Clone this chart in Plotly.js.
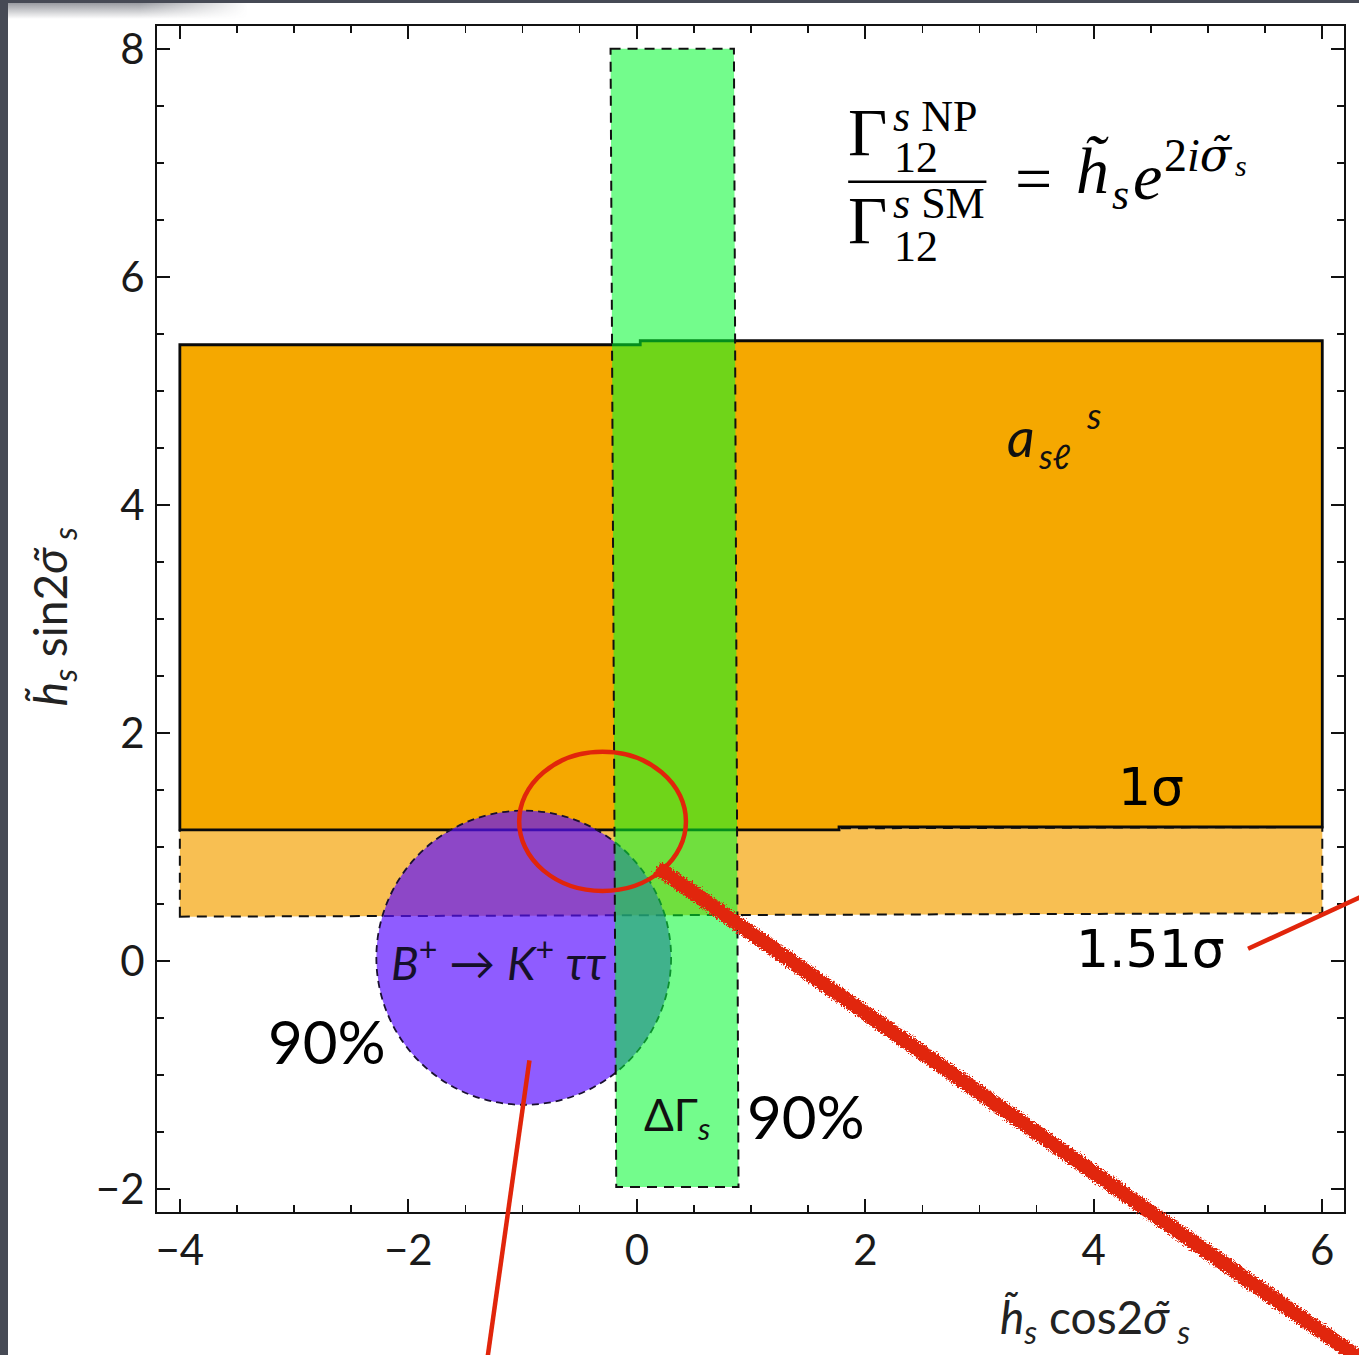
<!DOCTYPE html>
<html>
<head>
<meta charset="utf-8">
<script src="https://cdn.plot.ly/plotly-3.0.1.min.js"></script>
<style>
  html, body { margin: 0; padding: 0; width: 1359px; height: 1355px; overflow: hidden; background: #464a55; }
  #chart { position: absolute; left: 8px; top: 3px; width: 1351px; height: 1352px; background: #fff; }
  #shade { position: absolute; left: 8px; top: 3px; width: 240px; height: 16px; pointer-events: none; z-index: 5;
           background: linear-gradient(to bottom, rgba(70,74,85,0.55), rgba(70,74,85,0));
           -webkit-mask-image: linear-gradient(to right, #000 55%, transparent);
           mask-image: linear-gradient(to right, #000 55%, transparent); }
</style>
</head>
<body>
<div id="chart"></div>
<div id="shade"></div>
<script>
// Axis ranges and ticks
const xRange = [-4.2, 6.19];
const yRange = [-2.2, 8.2];
const xTickVals = [-4, -2, 0, 2, 4, 6];
const yTickVals = [-2, 0, 2, 4, 6, 8];

// a_sl^s constraint: 1 sigma region (outline vertices)
const asl1SigmaX = [-4, 1.77, 1.77, 6, 6, 0.03, 0.03, -4];
const asl1SigmaY = [1.15, 1.15, 1.176, 1.176, 5.44, 5.44, 5.405, 5.405];
// a_sl^s constraint: 1.51 sigma band below it
const asl151SigmaX = [-4, 6, 6, -4];
const asl151SigmaY = [0.39, 0.42, 1.176, 1.15];

// Delta Gamma_s 90% band
const dGammaX = [-0.23, 0.85, 0.89, -0.18];
const dGammaY = [8.0, 8.0, -1.98, -1.98];

// B+ -> K+ tau tau 90% disc: centre and radius
const bkttCenter = [-0.99, 0.03];
const bkttRadius = 1.29;

// Highlight ring around the overlap region: centre and radii
const ringCenter = [-0.30, 1.225];
const ringRadii = [0.73, 0.61];

// Pointer strokes, endpoints in data units (they run past the frame)
const strokeMainX = [0.18, 6.38];
const strokeMainY = [0.82, -3.52];
const strokeSigmaX = [5.35, 6.36];
const strokeSigmaY = [0.108, 0.573];
const strokeDiscX = [-0.94, -1.31];
const strokeDiscY = [-0.87, -3.50];

// Fraction bar of the ratio formula
const fracBarX = [1.85, 3.06];
const fracBarY = 6.835;

function polyPath(xs, ys) {
  return 'M' + xs.map((x, i) => x + ',' + ys[i]).join('L') + 'Z';
}
function toPaperX(x) { return (x - xRange[0]) / (xRange[1] - xRange[0]); }
function toPaperY(y) { return (y - yRange[0]) / (yRange[1] - yRange[0]); }

const dash = '10px,7px';
const ink = '#111';
const red = '#e1250b';

const shapes = [
  { type: 'path', xref: 'x', yref: 'y', path: polyPath(asl151SigmaX, asl151SigmaY),
    fillcolor: '#f8bf52', line: { color: ink, width: 2, dash: dash } },
  { type: 'path', xref: 'x', yref: 'y', path: polyPath(asl1SigmaX, asl1SigmaY),
    fillcolor: '#f5a800', line: { color: '#0a0a0a', width: 2.8 } },
  { type: 'circle', xref: 'x', yref: 'y',
    x0: bkttCenter[0] - bkttRadius, x1: bkttCenter[0] + bkttRadius,
    y0: bkttCenter[1] - bkttRadius, y1: bkttCenter[1] + bkttRadius,
    fillcolor: 'rgba(90,15,255,0.68)', line: { color: '#1a1030', width: 1.8, dash: '7px,5px' } },
  { type: 'path', xref: 'x', yref: 'y', path: polyPath(dGammaX, dGammaY),
    fillcolor: 'rgba(0,250,45,0.55)', line: { color: ink, width: 2, dash: dash } },
  { type: 'circle', xref: 'x', yref: 'y',
    x0: ringCenter[0] - ringRadii[0], x1: ringCenter[0] + ringRadii[0],
    y0: ringCenter[1] - ringRadii[1], y1: ringCenter[1] + ringRadii[1],
    fillcolor: 'rgba(0,0,0,0)', line: { color: red, width: 4.5 } },
  { type: 'line', xref: 'paper', yref: 'paper',
    x0: toPaperX(strokeMainX[0]), x1: toPaperX(strokeMainX[1]),
    y0: toPaperY(strokeMainY[0]), y1: toPaperY(strokeMainY[1]),
    line: { color: red, width: 15 } },
  { type: 'line', xref: 'paper', yref: 'paper',
    x0: toPaperX(strokeSigmaX[0]), x1: toPaperX(strokeSigmaX[1]),
    y0: toPaperY(strokeSigmaY[0]), y1: toPaperY(strokeSigmaY[1]),
    line: { color: red, width: 4.5 } },
  { type: 'line', xref: 'paper', yref: 'paper',
    x0: toPaperX(strokeDiscX[0]), x1: toPaperX(strokeDiscX[1]),
    y0: toPaperY(strokeDiscY[0]), y1: toPaperY(strokeDiscY[1]),
    line: { color: red, width: 4.5 } },
  { type: 'line', xref: 'x', yref: 'y',
    x0: fracBarX[0], x1: fracBarX[1], y0: fracBarY, y1: fracBarY,
    line: { color: '#000', width: 2.5 } }
];
const roughStrokeIndex = 5;

const serif = 'Liberation Serif, DejaVu Serif, serif';
const sans = 'Lato, Open Sans, sans-serif';
const djv = 'DejaVu Sans, sans-serif';

function note(text, x, y, font, extra) {
  return Object.assign({ text: text, x: x, y: y, xref: 'x', yref: 'y', showarrow: false,
    xanchor: 'center', yanchor: 'middle', font: font }, extra || {});
}
const L = { xanchor: 'left' };
const R = { xanchor: 'right' };

const annotations = [
  // ratio Gamma12 NP / Gamma12 SM
  note('Γ', 2.205, 7.27, { family: serif, size: 68, color: '#000' }, R),
  note('<i>s</i> NP', 2.222, 7.41, { family: serif, size: 44, color: '#000' }, L),
  note('12', 2.232, 7.05, { family: serif, size: 44, color: '#000' }, L),
  note('Γ', 2.205, 6.50, { family: serif, size: 68, color: '#000' }, R),
  note('<i>s</i> SM', 2.222, 6.64, { family: serif, size: 44, color: '#000' }, L),
  note('12', 2.232, 6.27, { family: serif, size: 44, color: '#000' }, L),
  note('=', 3.47, 6.86, { family: serif, size: 66, color: '#000' }),
  note('<i>h\u0303</i>', 3.99, 6.93, { family: serif, size: 66, color: '#000' }),
  note('<i>s</i>', 4.23, 6.72, { family: serif, size: 44, color: '#000' }),
  note('<i>e</i>', 4.47, 6.88, { family: serif, size: 66, color: '#000' }),
  note('2<i>i</i><span style="font-family:DejaVu Serif"><i>σ\u0303</i></span>', 4.60, 7.07, { family: serif, size: 46, color: '#000' }, L),
  note('<i>s</i>', 5.29, 6.98, { family: serif, size: 30, color: '#000' }),

  // region labels
  note('<i>a</i>', 3.36, 4.60, { family: sans, size: 54, color: '#111' }),
  note('<i>s\u2113</i>', 3.66, 4.43, { family: sans, size: 34, color: '#111' }),
  note('<i>s</i>', 4.00, 4.79, { family: sans, size: 36, color: '#111' }),
  note('1σ', 4.50, 1.53, { family: djv, size: 52, color: '#000' }),
  note('1.51σ', 4.50, 0.11, { family: djv, size: 52, color: '#000' }),
  note('<i>B</i><sup>+</sup> → <i>K</i><sup>+</sup> <i>ττ</i>', -1.21, 0.01, { family: sans, size: 46, color: '#15102a' }),
  note('90%', -2.71, -0.70, { family: sans, size: 60, color: '#000' }),
  note('ΔΓ<sub><i>s</i></sub>', 0.35, -1.37, { family: sans, size: 44, color: '#111' }),
  note('90%', 1.48, -1.36, { family: sans, size: 60, color: '#000' }),

  // axis titles
  { text: '<i>h\u0303</i><sub><i>s</i></sub> cos2<i>σ\u0303</i><sub> <i>s</i></sub>', xref: 'paper', yref: 'paper',
    x: 0.79, y: -0.091, xanchor: 'center', yanchor: 'middle', showarrow: false,
    font: { family: sans, size: 46, color: '#222' } },
  { text: '<i>h\u0303</i><sub><i>s</i></sub> sin2<i>σ\u0303</i><sub> <i>s</i></sub>', xref: 'paper', yref: 'paper',
    x: -0.088, y: 0.502, xanchor: 'center', yanchor: 'middle', showarrow: false, textangle: -90,
    font: { family: sans, size: 46, color: '#222' } }
];

const axisBase = {
  showline: true, linecolor: '#111', linewidth: 2, mirror: 'ticks',
  ticks: 'inside', ticklen: 13, tickwidth: 2, tickcolor: '#111',
  showgrid: false, zeroline: false, fixedrange: true,
  tickfont: { family: sans, size: 42, color: '#1a1a1a' },
  minor: { tickmode: 'linear', tick0: 0, dtick: 0.5, ticks: 'inside', ticklen: 7, tickwidth: 1.5, tickcolor: '#111', showgrid: false }
};

const layout = {
  width: 1351, height: 1352,
  margin: { l: 149, r: 15, t: 23, b: 143 },
  paper_bgcolor: '#ffffff', plot_bgcolor: '#ffffff',
  showlegend: false,
  xaxis: Object.assign({}, axisBase, { range: xRange, tickmode: 'array', tickvals: xTickVals, ticklabelstandoff: 1 }),
  yaxis: Object.assign({}, axisBase, { range: yRange, tickmode: 'array', tickvals: yTickVals, ticklabelstandoff: 2 }),
  shapes: shapes,
  annotations: annotations
};

Plotly.newPlot('chart', [], layout, { staticPlot: true, displayModeBar: false }).then(function (gd) {
  // chalky texture for the broad pointer stroke
  const ns = 'http://www.w3.org/2000/svg';
  const svg = gd.querySelector('.main-svg');
  let defs = svg.querySelector('defs');
  if (!defs) { defs = document.createElementNS(ns, 'defs'); svg.insertBefore(defs, svg.firstChild); }
  const filter = document.createElementNS(ns, 'filter');
  filter.setAttribute('id', 'chalk');
  filter.setAttribute('filterUnits', 'userSpaceOnUse');
  filter.setAttribute('x', '0'); filter.setAttribute('y', '0');
  filter.setAttribute('width', '1400'); filter.setAttribute('height', '1400');
  const turb = document.createElementNS(ns, 'feTurbulence');
  turb.setAttribute('type', 'fractalNoise');
  turb.setAttribute('baseFrequency', '0.7');
  turb.setAttribute('numOctaves', '2');
  turb.setAttribute('seed', '3');
  turb.setAttribute('result', 'noise');
  const disp = document.createElementNS(ns, 'feDisplacementMap');
  disp.setAttribute('in', 'SourceGraphic');
  disp.setAttribute('in2', 'noise');
  disp.setAttribute('scale', '8');
  disp.setAttribute('xChannelSelector', 'R');
  disp.setAttribute('yChannelSelector', 'G');
  filter.appendChild(turb);
  filter.appendChild(disp);
  defs.appendChild(filter);
  const stroke = gd.querySelector('.shapelayer [data-index="' + roughStrokeIndex + '"]');
  if (stroke) stroke.setAttribute('filter', 'url(#chalk)');
});
</script>
</body>
</html>
